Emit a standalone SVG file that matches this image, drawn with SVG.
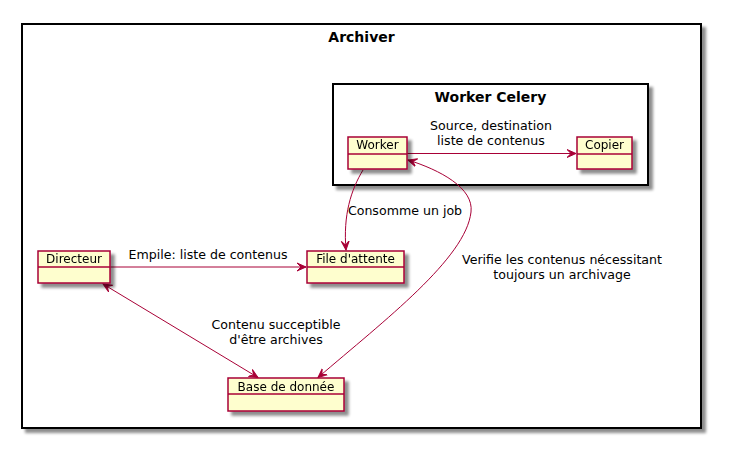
<svg xmlns="http://www.w3.org/2000/svg" width="735" height="454" viewBox="0 0 735 454">
<style>
text{font-family:"DejaVu Sans","Liberation Sans",sans-serif;fill:#000}
.frame{fill:#fff;stroke:#000;stroke-width:2}
.title{font-size:14px;font-weight:bold;text-anchor:middle}
.node rect{fill:#FEFECE;stroke:#A80036;stroke-width:1.5}
.node line{stroke:#A80036;stroke-width:1.5}
.node text{font-size:12px;text-anchor:middle}
.edge{fill:none;stroke:#A80036;stroke-width:1}
.lbl{font-size:12.6px;text-anchor:middle}
</style>
<defs>
<filter id="sh" x="-10%" y="-10%" width="130%" height="150%">
<feGaussianBlur in="SourceAlpha" stdDeviation="1.7"/>
<feOffset dx="4" dy="4" result="b"/>
<feComponentTransfer><feFuncA type="linear" slope="0.45"/></feComponentTransfer>
<feMerge><feMergeNode/><feMergeNode in="SourceGraphic"/></feMerge>
</filter>
<marker id="ah" viewBox="0 0 10 10" refX="9" refY="5" markerWidth="10" markerHeight="10" markerUnits="userSpaceOnUse" orient="auto-start-reverse">
<path d="M0,1 L9,5 L0,9 L4,5 Z" fill="#A80036" stroke="#A80036" stroke-width="1"/>
</marker>
</defs>
<g id="archiver">
<rect class="frame" x="22" y="24" width="679" height="404" filter="url(#sh)"/>
<text class="title" x="361.5" y="42">Archiver</text>
</g>
<g id="worker-celery">
<rect class="frame" x="333" y="84" width="315" height="101" filter="url(#sh)"/>
<text class="title" x="490.5" y="102">Worker Celery</text>
</g>
<g id="edges">
<line class="edge" x1="407" y1="153.5" x2="576" y2="153.5" marker-end="url(#ah)"/>
<path class="edge" d="M363,170 C351,190 343,215 346,250" marker-end="url(#ah)"/>
<path class="edge" d="M408,160 C440,170 474,188 471,212 C466,258 385,320 318,377.5" marker-start="url(#ah)" marker-end="url(#ah)"/>
<line class="edge" x1="110" y1="267" x2="306" y2="267" marker-end="url(#ah)"/>
<line class="edge" x1="103" y1="284" x2="258" y2="377.5" marker-start="url(#ah)" marker-end="url(#ah)"/>
<text class="lbl" x="491" y="130">Source, destination</text>
<text class="lbl" x="491" y="144.5"> liste de contenus</text>
<text class="lbl" x="405" y="215">Consomme un job</text>
<text class="lbl" x="208" y="259">Empile: liste de contenus</text>
<text class="lbl" x="562" y="264">Verifie les contenus nécessitant</text>
<text class="lbl" x="562" y="278.5">toujours un archivage</text>
<text class="lbl" x="276" y="329">Contenu succeptible</text>
<text class="lbl" x="276" y="343.5">d'être archives</text>
</g>
<g id="worker" class="node" filter="url(#sh)">
<rect x="348" y="137" width="59" height="32"/>
<line x1="348" y1="154" x2="407" y2="154"/>
<text x="377.5" y="149">Worker</text>
</g>
<g id="copier" class="node" filter="url(#sh)">
<rect x="577" y="137" width="55" height="32"/>
<line x1="577" y1="154" x2="632" y2="154"/>
<text x="604.5" y="149">Copier</text>
</g>
<g id="directeur" class="node" filter="url(#sh)">
<rect x="38" y="251" width="72" height="32"/>
<line x1="38" y1="267" x2="110" y2="267"/>
<text x="74" y="263">Directeur</text>
</g>
<g id="file-attente" class="node" filter="url(#sh)">
<rect x="307" y="251" width="97" height="32"/>
<line x1="307" y1="267" x2="404" y2="267"/>
<text x="355.5" y="263">File d'attente</text>
</g>
<g id="base-donnee" class="node" filter="url(#sh)">
<rect x="228" y="378" width="116" height="33"/>
<line x1="228" y1="394" x2="344" y2="394"/>
<text x="286" y="391">Base de donnée</text>
</g>
</svg>
